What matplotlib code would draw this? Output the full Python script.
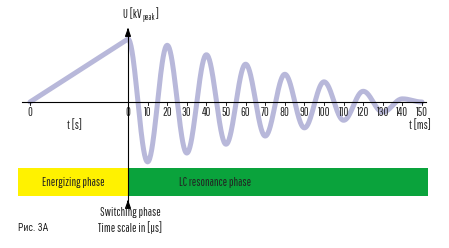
import numpy as np
import matplotlib
matplotlib.use("Agg")
import matplotlib.pyplot as plt
from matplotlib.patches import Rectangle

# data (U normalised: switching peak = 100)
ramp_t = [-50, 0]            # charging ramp, drawn on the [s] scale part
ramp_u = [0, 100]
ext_t = [0, 10, 20, 30, 40, 50, 60, 70, 80, 90, 100, 110, 120, 130, 140, 150]   # ms
ext_u = [100, -95, 90, -81, 75, -67, 60, -54, 44, -41, 32, -29, 17, -16, 5, 0]
ms_ticks = [0, 10, 20, 30, 40, 50, 60, 70, 80, 90, 100, 110, 120, 130, 140, 150]
phases = ["Energizing phase", "LC resonance phase"]
phase_start = [-56, 0]
phase_end = [0, 153]
phase_colors = ["#fff200", "#0aa33c"]

W, H = 449, 248
plt.rcParams['font.family'] = ['Pathway Gothic One', 'Roboto Condensed', 'DejaVu Sans']
fig = plt.figure(figsize=(W / 100, H / 100), dpi=100)
ax = fig.add_axes([0, 0, 1, 1])
ax.axis("off")

# pixel layout: t=0 at x=128 px, 1.96 px per ms; baseline at y=102 px, 63 px per 100 units
x0, sx = 128, 1.96
y0, sy = 102, 100 / 63
ax.set_xlim(-x0 / sx, (W - x0) / sx)
ax.set_ylim(-(H - y0) * sy, y0 * sy)

def px(p):
    return (p - x0) / sx

def py(p):
    return (y0 - p) * sy

fs = 8.5
wave = "#b8b8da"
ink = "#222222"

# curve: ramp + half-cosine arcs between the read extrema
ax.plot(ramp_t, ramp_u, color=wave, lw=3.6, solid_capstyle="round", zorder=2)
tt, uu = [], []
for i in range(len(ext_t) - 1):
    s = np.linspace(0, 1, 40)
    tt.extend(ext_t[i] + (ext_t[i + 1] - ext_t[i]) * s)
    uu.extend(ext_u[i] + (ext_u[i + 1] - ext_u[i]) * (1 - np.cos(np.pi * s)) / 2)
ax.plot(tt, uu, color=wave, lw=3.6, solid_capstyle="round", zorder=2)

# horizontal axis
ax.plot([px(22), px(426)], [0, 0], color="black", lw=0.8, zorder=3)
for t in ms_ticks:
    ax.plot([t, t], [0, py(105)], color="black", lw=0.6, zorder=3)
    ax.text(t, py(113), str(t), ha="center", va="center", fontsize=fs, color=ink, zorder=4)
ax.plot([-50, -50], [0, py(105)], color="black", lw=0.6)
ax.text(-50, py(113), "0", ha="center", va="center", fontsize=fs, color=ink)
ax.text(px(75), py(125), "t [s]", ha="center", va="center", fontsize=fs, color=ink)
ax.text(px(420), py(125), "t [ms]", ha="center", va="center", fontsize=fs, color=ink)

# phase bars
for name, a, b, c in zip(phases, phase_start, phase_end, phase_colors):
    ax.add_patch(Rectangle((a, py(196)), b - a, py(168) - py(196), facecolor=c,
                           edgecolor="none", zorder=1))
ax.text(px(73), py(182), phases[0], ha="center", va="center", fontsize=fs, color=ink)
ax.text(px(215), py(182), phases[1], ha="center", va="center", fontsize=fs, color=ink)

# vertical axis with arrows
ax.plot([0, 0], [py(205), py(30)], color="black", lw=0.8, zorder=5)
ax.annotate("", xy=(0, py(25)), xytext=(0, py(33)),
            arrowprops=dict(arrowstyle="-|>,head_width=0.18,head_length=0.5", color="black", lw=0.8))
ax.annotate("", xy=(0, py(197)), xytext=(0, py(205)),
            arrowprops=dict(arrowstyle="-|>,head_width=0.18,head_length=0.5", color="black", lw=0.8))
ax.text(px(123), py(14), "U [kV", ha="left", va="center", fontsize=fs, color=ink)
ax.text(px(142), py(17), "peak", ha="left", va="center", fontsize=6, color=ink)
ax.text(px(156), py(14), "]", ha="left", va="center", fontsize=fs, color=ink)

ax.text(px(130), py(213), "Switching phase", ha="center", va="center", fontsize=fs, color=ink)
ax.text(px(130), py(228), "Time scale in [µs]", ha="center", va="center", fontsize=fs, color=ink)
ax.text(px(18), py(228), "Рис. 3А", ha="left", va="center", fontsize=7,
        family=['Roboto Condensed', 'DejaVu Sans'], color=ink)

fig.savefig("out.png", dpi=100)
